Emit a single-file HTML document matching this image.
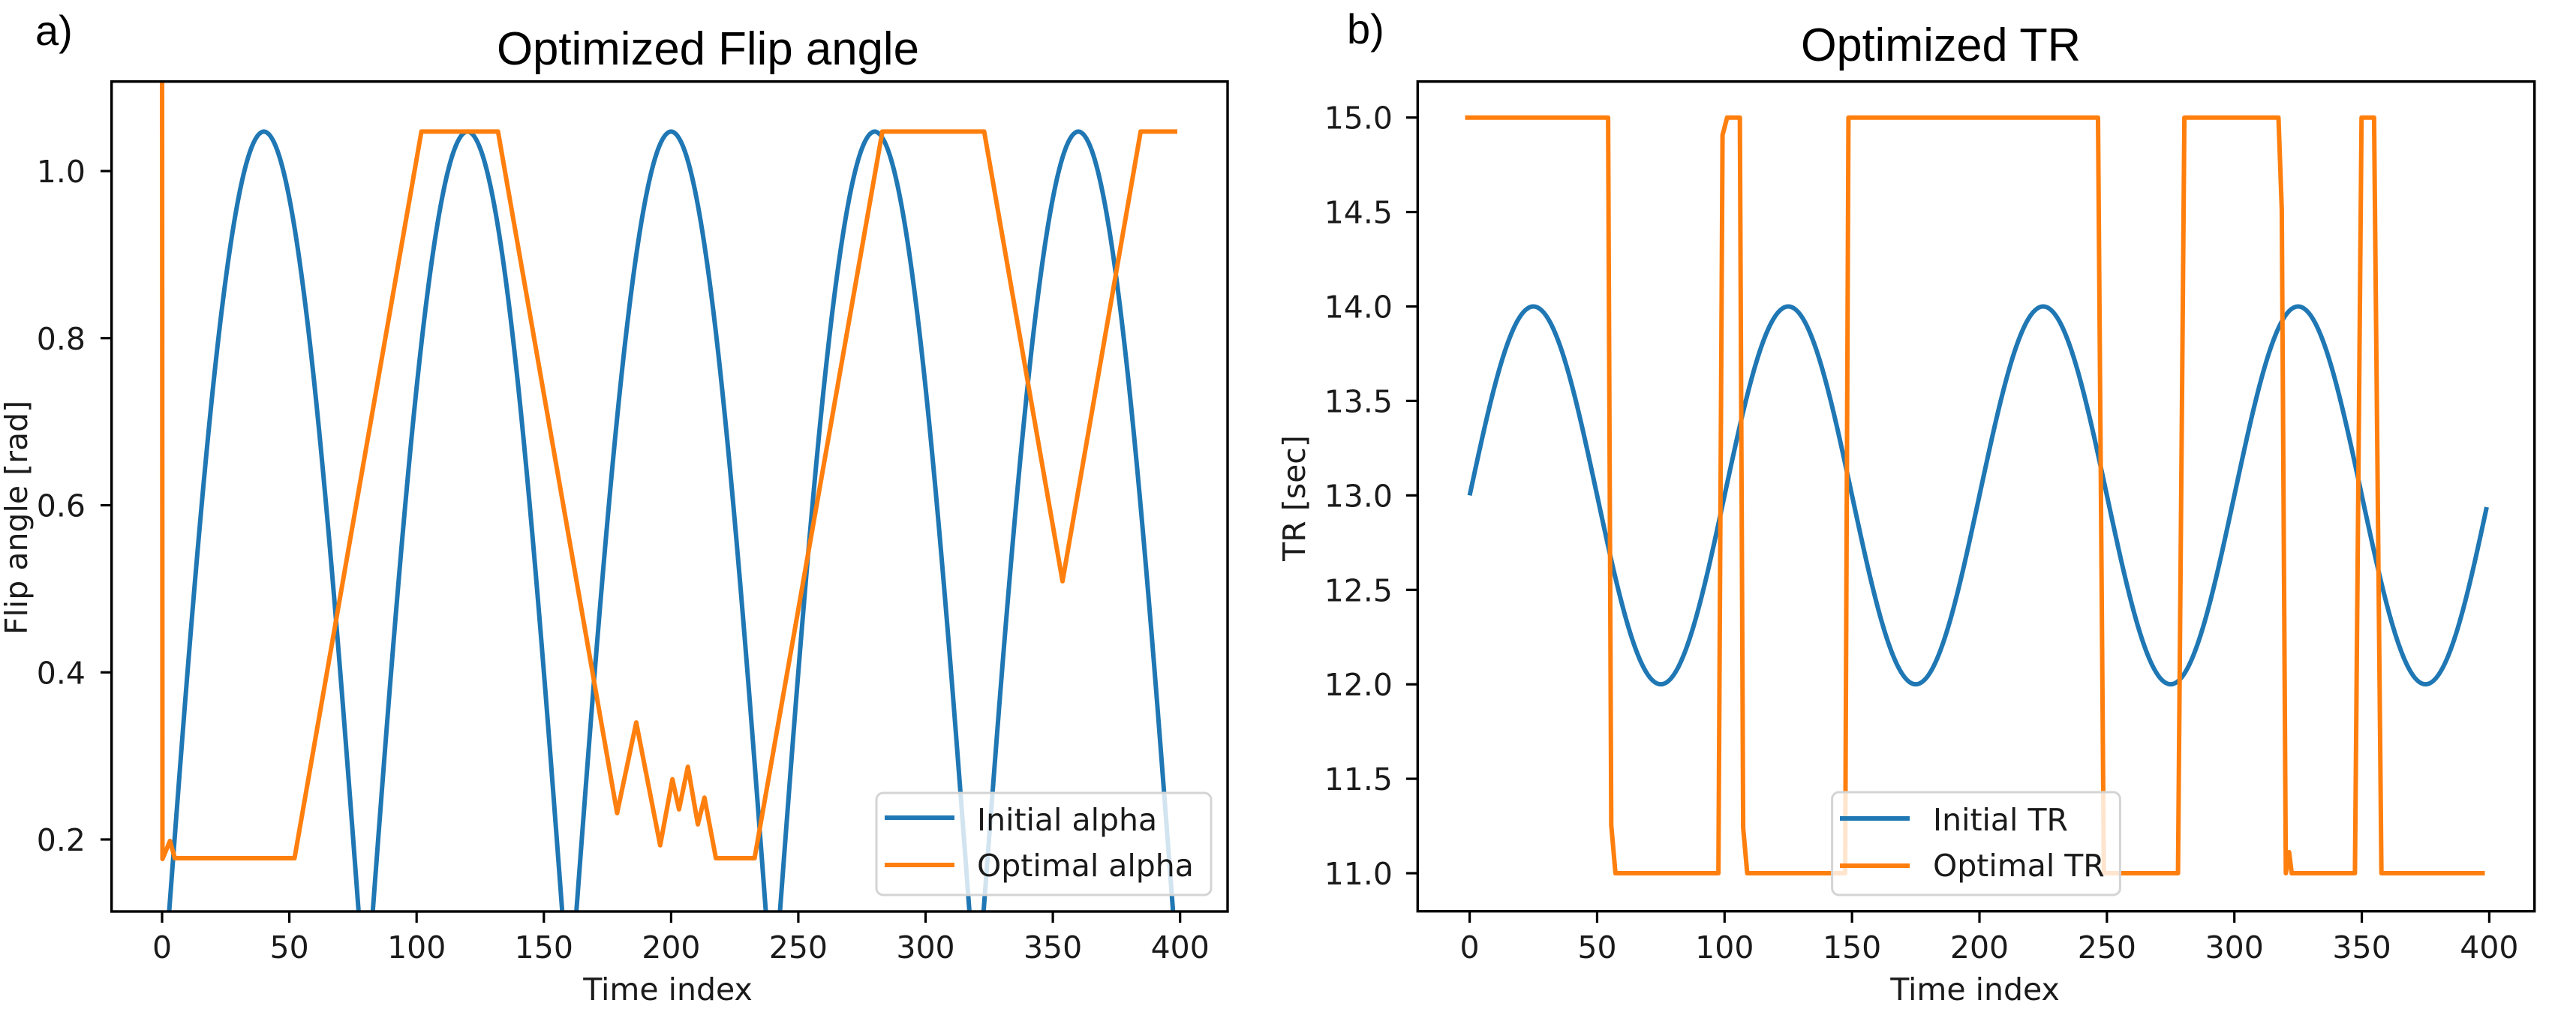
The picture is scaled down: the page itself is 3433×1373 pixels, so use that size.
<!DOCTYPE html>
<html>
<head>
<meta charset="utf-8">
<style>
html,body{margin:0;padding:0;background:#fff;}
svg{display:block;}
.t{font-family:"DejaVu Sans","Liberation Sans",sans-serif;font-size:41px;fill:#1a1a1a;}
.ti{font-family:"Liberation Sans",sans-serif;font-size:62px;fill:#000;}
</style>
</head>
<body>
<svg width="3433" height="1373" viewBox="0 0 3433 1373" xmlns="http://www.w3.org/2000/svg">
<defs>
<clipPath id="cL"><rect x="148.7" y="108.7" width="1487.3" height="1106.3"/></clipPath>
<clipPath id="cR"><rect x="1889.3" y="108.7" width="1488.4" height="1106"/></clipPath>
</defs>
<rect width="3433" height="1373" fill="#fff"/>

<!-- Titles -->
<text class="ti" x="47" y="60" style="font-size:56px">a)</text>
<text class="ti" x="662" y="86" textLength="563" lengthAdjust="spacingAndGlyphs">Optimized Flip angle</text>
<text class="ti" x="1795" y="58" style="font-size:56px">b)</text>
<text class="ti" x="2400" y="81" textLength="373" lengthAdjust="spacingAndGlyphs">Optimized TR</text>

<!-- ===== LEFT PANEL ===== -->
<g clip-path="url(#cL)" fill="none" stroke-width="6" stroke-linejoin="round">
<path stroke="#1f77b4" d="M216,1341.75 C260.25,744.25 302.57,175.4 351.67,175.4 C400.77,175.4 443.09,744.25 487.34,1341.75 C531.59,744.25 573.91,175.4 623.02,175.4 C672.12,175.4 714.44,744.25 758.69,1341.75 C802.94,744.25 845.26,175.4 894.36,175.4 C943.46,175.4 985.78,744.25 1030.03,1341.75 C1074.28,744.25 1116.6,175.4 1165.7,175.4 C1214.8,175.4 1257.12,744.25 1301.38,1341.75 C1345.63,744.25 1387.95,175.4 1437.05,175.4 C1486.15,175.4 1528.47,744.25 1572.72,1341.75"/>
<path stroke="#ff7f0e" stroke-linecap="square" d="M216,40 L216.5,1145 L226.5,1121 L233,1144 L392.5,1144 L561.6,175.4 L663.7,175.4 L822.4,1083.9 L847.9,963.1 L879.8,1126.8 L896.1,1038.8 L904.9,1078.9 L916.7,1022.1 L930,1098.9 L938.8,1063.3 L954.1,1144 L1005.6,1144 L1175.9,175.4 L1311.6,175.4 L1416,774.8 L1520.1,175.4 L1566,175.4"/>
</g>
<rect x="148.7" y="108.7" width="1487.3" height="1106.3" fill="none" stroke="#000" stroke-width="3.4"/>
<!-- x ticks -->
<g stroke="#000" stroke-width="3.2">
<line x1="216" y1="1215" x2="216" y2="1230"/>
<line x1="385.6" y1="1215" x2="385.6" y2="1230"/>
<line x1="555.2" y1="1215" x2="555.2" y2="1230"/>
<line x1="724.8" y1="1215" x2="724.8" y2="1230"/>
<line x1="894.4" y1="1215" x2="894.4" y2="1230"/>
<line x1="1063.9" y1="1215" x2="1063.9" y2="1230"/>
<line x1="1233.5" y1="1215" x2="1233.5" y2="1230"/>
<line x1="1403.1" y1="1215" x2="1403.1" y2="1230"/>
<line x1="1572.7" y1="1215" x2="1572.7" y2="1230"/>
<line x1="134" y1="228" x2="148.7" y2="228"/>
<line x1="134" y1="450.75" x2="148.7" y2="450.75"/>
<line x1="134" y1="673.5" x2="148.7" y2="673.5"/>
<line x1="134" y1="896.25" x2="148.7" y2="896.25"/>
<line x1="134" y1="1119" x2="148.7" y2="1119"/>
</g>
<g class="t" text-anchor="middle">
<text class="t" x="216" y="1277">0</text>
<text class="t" x="385.6" y="1277">50</text>
<text class="t" x="555.2" y="1277">100</text>
<text class="t" x="724.8" y="1277">150</text>
<text class="t" x="894.4" y="1277">200</text>
<text class="t" x="1063.9" y="1277">250</text>
<text class="t" x="1233.5" y="1277">300</text>
<text class="t" x="1403.1" y="1277">350</text>
<text class="t" x="1572.7" y="1277">400</text>
</g>
<g text-anchor="end">
<text class="t" x="114" y="243">1.0</text>
<text class="t" x="114" y="465.75">0.8</text>
<text class="t" x="114" y="688.5">0.6</text>
<text class="t" x="114" y="911.25">0.4</text>
<text class="t" x="114" y="1134">0.2</text>
</g>
<text class="t" x="890" y="1333" text-anchor="middle">Time index</text>
<text class="t" transform="translate(36,690) rotate(-90)" text-anchor="middle">Flip angle [rad]</text>
<!-- legend left -->
<rect x="1168" y="1057" width="446" height="136" rx="9" ry="9" fill="#fff" fill-opacity="0.8" stroke="#d4d4d4" stroke-width="3"/>
<line x1="1182" y1="1090" x2="1269" y2="1090" stroke="#1f77b4" stroke-width="6" stroke-linecap="square"/>
<line x1="1182" y1="1153" x2="1269" y2="1153" stroke="#ff7f0e" stroke-width="6" stroke-linecap="square"/>
<text class="t" x="1302" y="1107">Initial alpha</text>
<text class="t" x="1302" y="1168">Optimal alpha</text>

<!-- ===== RIGHT PANEL ===== -->
<g clip-path="url(#cR)" fill="none" stroke-width="6" stroke-linejoin="round">
<path stroke="#1f77b4" d="M1958.6,660.35 C1986.3,531.34 2012.79,408.52 2043.53,408.52 C2074.27,408.52 2100.76,531.34 2128.45,660.35 C2156.15,789.36 2182.64,912.18 2213.38,912.18 C2244.12,912.18 2270.61,789.36 2298.3,660.35 C2326,531.34 2352.49,408.52 2383.23,408.52 C2413.97,408.52 2440.46,531.34 2468.15,660.35 C2495.85,789.36 2522.34,912.18 2553.08,912.18 C2583.82,912.18 2610.31,789.36 2638,660.35 C2665.7,531.34 2692.19,408.52 2722.93,408.52 C2753.67,408.52 2780.16,531.34 2807.85,660.35 C2835.55,789.36 2862.04,912.18 2892.78,912.18 C2923.52,912.18 2950.01,789.36 2977.7,660.35 C3005.4,531.34 3031.89,408.52 3062.63,408.52 C3093.37,408.52 3119.86,531.34 3147.55,660.35 C3175.25,789.36 3201.74,912.18 3232.48,912.18 C3263.22,912.18 3289.71,789.36 3314,676"/>
<path stroke="#ff7f0e" stroke-linecap="square" d="M1955.5,156.7 L2143.1,156.7 L2147.3,1100 L2152.9,1164 L2290.1,1164 L2295.6,180 L2301.7,156.7 L2318.7,156.7 L2323.1,1103.6 L2328.5,1164 L2459,1164 L2463.4,156.7 L2796,156.7 L2803.8,1164 L2902.6,1164 L2911.1,156.7 L3036.5,156.7 L3040.9,280 L3046.3,1164 L3050.7,1136 L3054.1,1164 L3138.4,1164 L3147.2,156.7 L3163.9,156.7 L3173.7,1164 L3308.5,1164"/>
</g>
<rect x="1889.3" y="108.7" width="1488.4" height="1106" fill="none" stroke="#000" stroke-width="3.4"/>
<g stroke="#000" stroke-width="3.2">
<line x1="1958.6" y1="1214.7" x2="1958.6" y2="1230"/>
<line x1="2128.45" y1="1214.7" x2="2128.45" y2="1230"/>
<line x1="2298.3" y1="1214.7" x2="2298.3" y2="1230"/>
<line x1="2468.15" y1="1214.7" x2="2468.15" y2="1230"/>
<line x1="2638" y1="1214.7" x2="2638" y2="1230"/>
<line x1="2807.85" y1="1214.7" x2="2807.85" y2="1230"/>
<line x1="2977.7" y1="1214.7" x2="2977.7" y2="1230"/>
<line x1="3147.55" y1="1214.7" x2="3147.55" y2="1230"/>
<line x1="3317.4" y1="1214.7" x2="3317.4" y2="1230"/>
<line x1="1874" y1="156.7" x2="1889.3" y2="156.7"/>
<line x1="1874" y1="282.6" x2="1889.3" y2="282.6"/>
<line x1="1874" y1="408.5" x2="1889.3" y2="408.5"/>
<line x1="1874" y1="534.4" x2="1889.3" y2="534.4"/>
<line x1="1874" y1="660.35" x2="1889.3" y2="660.35"/>
<line x1="1874" y1="786.3" x2="1889.3" y2="786.3"/>
<line x1="1874" y1="912.2" x2="1889.3" y2="912.2"/>
<line x1="1874" y1="1038.1" x2="1889.3" y2="1038.1"/>
<line x1="1874" y1="1164" x2="1889.3" y2="1164"/>
</g>
<g text-anchor="middle">
<text class="t" x="1958.6" y="1277">0</text>
<text class="t" x="2128.45" y="1277">50</text>
<text class="t" x="2298.3" y="1277">100</text>
<text class="t" x="2468.15" y="1277">150</text>
<text class="t" x="2638" y="1277">200</text>
<text class="t" x="2807.85" y="1277">250</text>
<text class="t" x="2977.7" y="1277">300</text>
<text class="t" x="3147.55" y="1277">350</text>
<text class="t" x="3317.4" y="1277">400</text>
</g>
<g text-anchor="end">
<text class="t" x="1856" y="171.7">15.0</text>
<text class="t" x="1856" y="297.6">14.5</text>
<text class="t" x="1856" y="423.5">14.0</text>
<text class="t" x="1856" y="549.4">13.5</text>
<text class="t" x="1856" y="675.35">13.0</text>
<text class="t" x="1856" y="801.3">12.5</text>
<text class="t" x="1856" y="927.2">12.0</text>
<text class="t" x="1856" y="1053.1">11.5</text>
<text class="t" x="1856" y="1179">11.0</text>
</g>
<text class="t" x="2632" y="1333" text-anchor="middle">Time index</text>
<text class="t" transform="translate(1739,664) rotate(-90)" text-anchor="middle">TR [sec]</text>
<!-- legend right -->
<rect x="2441.6" y="1056" width="383.8" height="137" rx="9" ry="9" fill="#fff" fill-opacity="0.8" stroke="#d4d4d4" stroke-width="3"/>
<line x1="2455" y1="1091" x2="2542" y2="1091" stroke="#1f77b4" stroke-width="6" stroke-linecap="square"/>
<line x1="2455" y1="1154" x2="2542" y2="1154" stroke="#ff7f0e" stroke-width="6" stroke-linecap="square"/>
<text class="t" x="2576" y="1107">Initial TR</text>
<text class="t" x="2576" y="1168">Optimal TR</text>
</svg>
</body>
</html>
